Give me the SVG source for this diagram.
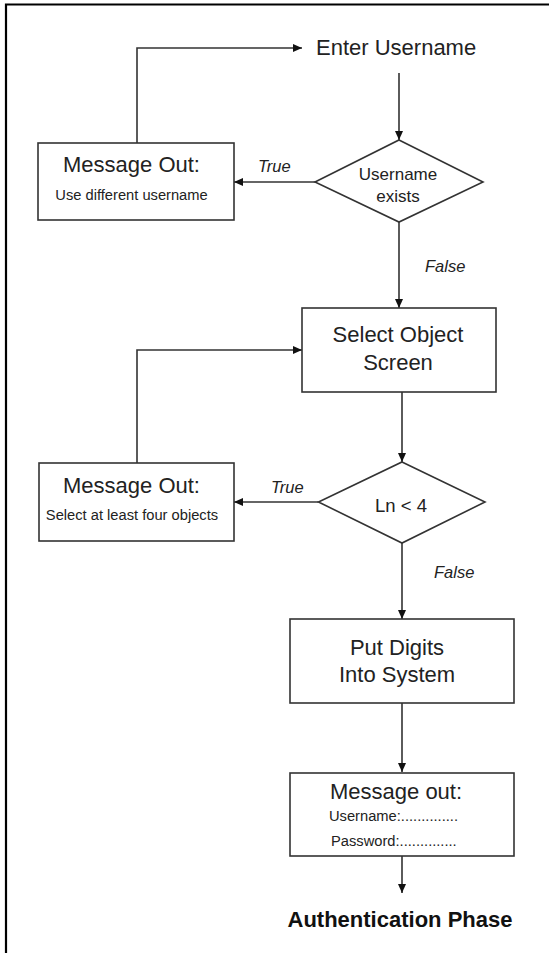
<svg xmlns="http://www.w3.org/2000/svg" width="549" height="953" viewBox="0 0 549 953">
<defs>
<marker id="ah" markerUnits="userSpaceOnUse" markerWidth="10" markerHeight="10" refX="9" refY="4" orient="auto">
<path d="M0,0 L9,4 L0,8 z" fill="#111"/>
</marker>
<style>
.box{fill:#fff;stroke:#333;stroke-width:1.6}
.ln{fill:none;stroke:#333;stroke-width:1.6;marker-end:url(#ah)}
.t{font-family:"Liberation Sans",Arial,sans-serif;fill:#222}
.big{font-size:22px}
.mid{font-size:17px}
.sm{font-size:14.7px}
.lab{font-size:16.5px;font-style:italic}
.c{text-anchor:middle}
</style>
</defs>
<rect width="549" height="953" fill="#fff"/>
<path d="M6,953 V4.5 H549" fill="none" stroke="#000" stroke-width="2.2"/>
<g id="connectors">
<path class="ln" d="M137,143 V48 H302"/>
<path class="ln" d="M399,73 V140"/>
<path class="ln" d="M315,182 H234"/>
<path class="ln" d="M399,222 V308"/>
<path class="ln" d="M137,463 V350 H302"/>
<path class="ln" d="M402,392 V462"/>
<path class="ln" d="M318.5,502 H234"/>
<path class="ln" d="M402,543 V619"/>
<path class="ln" d="M402,703 V772"/>
<path class="ln" d="M402,856 V893"/>
<text class="t lab" x="258" y="172">True</text>
<text class="t lab" x="425" y="272">False</text>
<text class="t lab" x="271" y="493">True</text>
<text class="t lab" x="434" y="578">False</text>
</g>
<g id="enter-username">
<text class="t big" x="316" y="55">Enter Username</text>
</g>
<g id="username-exists">
<polygon class="box" points="399,140 483,182 399,222 315,182"/>
<text class="t mid c" x="398" y="180">Username</text>
<text class="t mid c" x="398" y="202">exists</text>
</g>
<g id="msg-different">
<rect class="box" x="38" y="143" width="196" height="77"/>
<text class="t big c" x="131.5" y="172">Message Out:</text>
<text class="t sm c" x="131.5" y="200">Use different username</text>
</g>
<g id="select-object">
<rect class="box" x="302" y="308" width="194" height="84"/>
<text class="t big c" x="398" y="342">Select Object</text>
<text class="t big c" x="398" y="370">Screen</text>
</g>
<g id="ln-check">
<polygon class="box" points="402,462 485,502 402,543 318.5,502"/>
<text class="t mid c" x="401" y="512" style="font-size:18.5px">Ln &lt; 4</text>
</g>
<g id="msg-four">
<rect class="box" x="39" y="463" width="195" height="78"/>
<text class="t big c" x="131.5" y="493">Message Out:</text>
<text class="t sm c" x="132" y="520">Select at least four objects</text>
</g>
<g id="put-digits">
<rect class="box" x="290" y="619" width="224" height="84"/>
<text class="t big c" x="397" y="655">Put Digits</text>
<text class="t big c" x="397" y="682">Into System</text>
</g>
<g id="msg-credentials">
<rect class="box" x="290" y="773" width="224" height="83"/>
<text class="t big" x="330" y="799">Message out:</text>
<text class="t sm" x="329" y="821">Username:..............</text>
<text class="t sm" x="331" y="846">Password:..............</text>
</g>
<g id="auth-phase">
<text class="t c" x="400" y="927" style="font-size:22px;font-weight:bold;fill:#111">Authentication Phase</text>
</g>
</svg>
